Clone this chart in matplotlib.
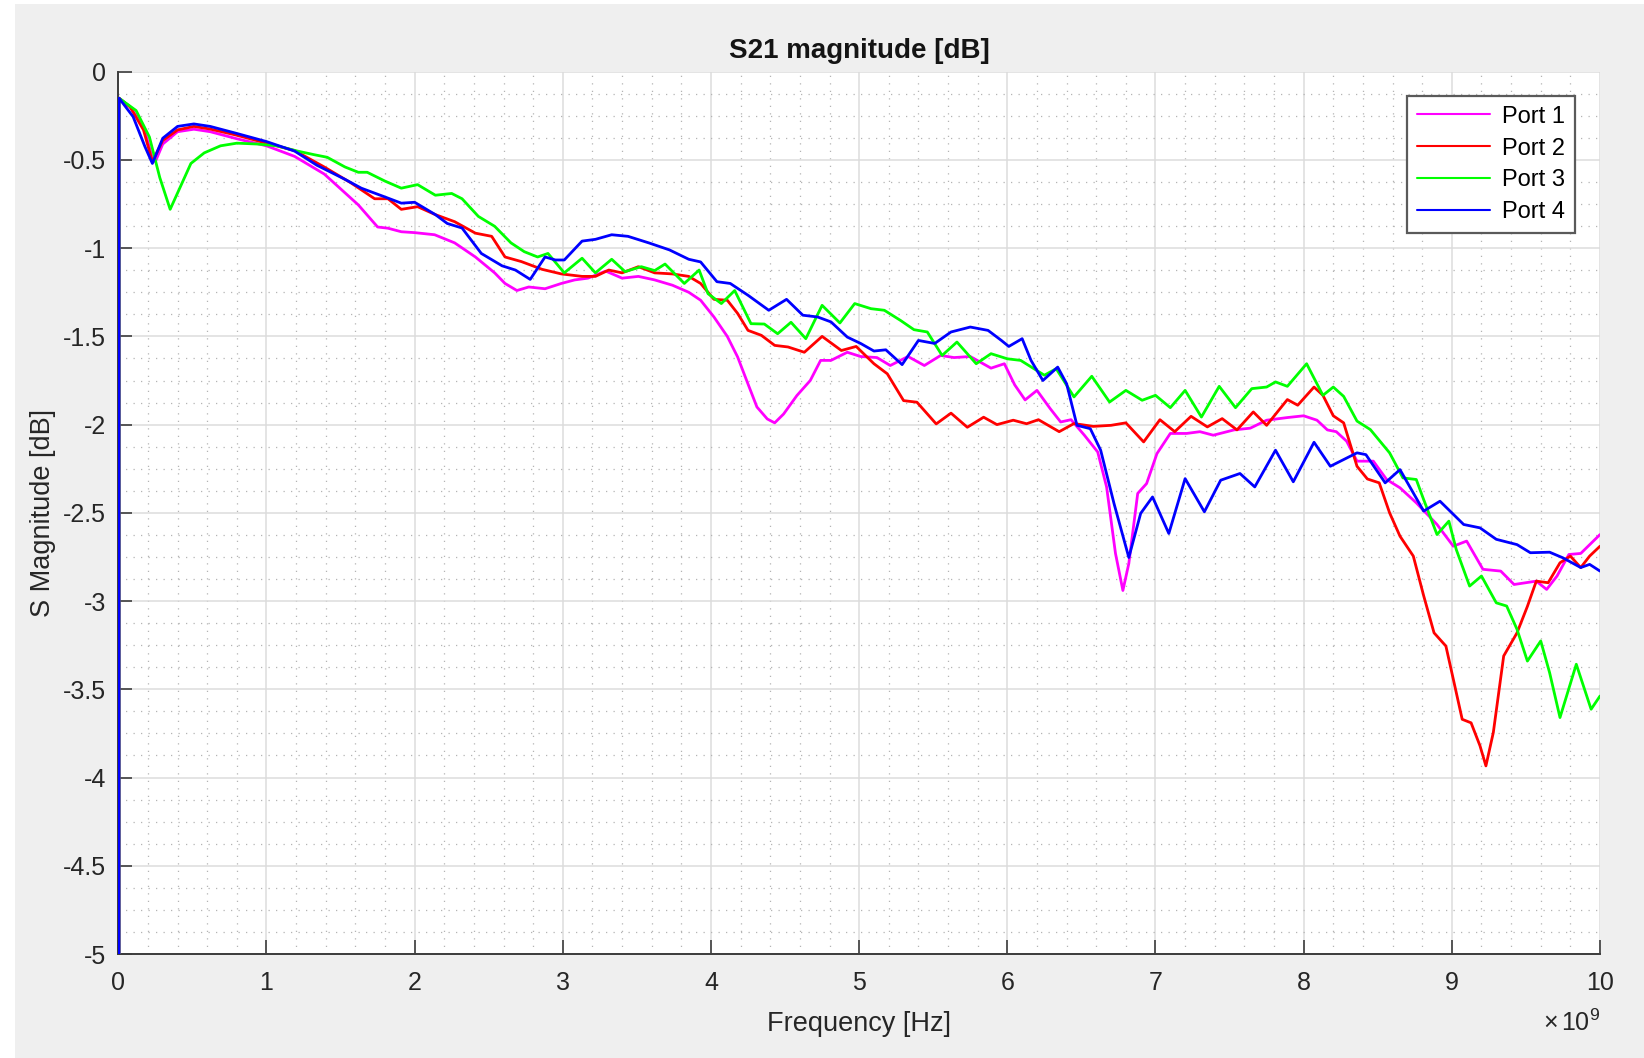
import numpy as np
import matplotlib
matplotlib.use("Agg")
import matplotlib.pyplot as plt
from matplotlib.ticker import MultipleLocator, FuncFormatter
from matplotlib.patches import Rectangle

# ---------------- data (frequency in GHz, magnitude in dB) ----------------
f1 = [0, 0.005, 0.08, 0.17, 0.23, 0.25, 0.3, 0.4, 0.51, 0.62, 0.8, 1.0, 1.19, 1.39, 1.62, 1.75, 1.82,
      1.91, 2.0, 2.135, 2.27, 2.41, 2.54, 2.61, 2.69, 2.77, 2.88, 2.99, 3.08, 3.17, 3.29, 3.4, 3.51,
      3.62, 3.74, 3.85, 3.93, 4.02, 4.11, 4.18, 4.25, 4.31, 4.38, 4.43, 4.49, 4.58, 4.67, 4.74, 4.81,
      4.92, 5.01, 5.12, 5.21, 5.33, 5.44, 5.55, 5.64, 5.75, 5.89, 5.98, 6.05, 6.12, 6.2, 6.29, 6.36,
      6.43, 6.52, 6.61, 6.67, 6.73, 6.78, 6.82, 6.88, 6.94, 7.01, 7.1, 7.21, 7.3, 7.39, 7.53, 7.64,
      7.75, 7.89, 8.0, 8.09, 8.16, 8.22, 8.29, 8.36, 8.47, 8.56, 8.65, 8.76, 8.9, 9.01, 9.1, 9.21,
      9.33, 9.42, 9.57, 9.64, 9.71, 9.79, 9.87, 10.0]
port1 = [-60, -0.15, -0.2, -0.31, -0.49, -0.51, -0.41, -0.34, -0.326, -0.34, -0.38, -0.42, -0.48,
         -0.58, -0.755, -0.88, -0.887, -0.907, -0.912, -0.924, -0.97, -1.05, -1.14, -1.2, -1.24,
         -1.22, -1.23, -1.2, -1.18, -1.17, -1.13, -1.17, -1.16, -1.18, -1.21, -1.25, -1.295, -1.39,
         -1.5, -1.617, -1.77, -1.9, -1.968, -1.99, -1.94, -1.835, -1.75, -1.636, -1.636, -1.59,
         -1.614, -1.62, -1.665, -1.614, -1.665, -1.608, -1.62, -1.614, -1.68, -1.655, -1.775,
         -1.86, -1.806, -1.91, -1.985, -1.972, -2.06, -2.155, -2.353, -2.73, -2.94, -2.787, -2.39,
         -2.334, -2.164, -2.05, -2.05, -2.04, -2.06, -2.03, -2.02, -1.975, -1.96, -1.95, -1.975,
         -2.03, -2.04, -2.094, -2.207, -2.207, -2.311, -2.358, -2.443, -2.566, -2.689, -2.66,
         -2.82, -2.83, -2.906, -2.887, -2.934, -2.858, -2.736, -2.73, -2.623]

f2 = [0, 0.005, 0.08, 0.17, 0.23, 0.3, 0.4, 0.51, 0.62, 0.8, 1.0, 1.19, 1.39, 1.57, 1.73, 1.82, 1.91,
      2.02, 2.14, 2.27, 2.41, 2.52, 2.61, 2.72, 2.86, 2.99, 3.13, 3.22, 3.31, 3.4, 3.51, 3.62, 3.74,
      3.85, 3.93, 4.02, 4.11, 4.18, 4.25, 4.34, 4.43, 4.52, 4.63, 4.75, 4.88, 4.98, 5.1, 5.19, 5.3,
      5.39, 5.52, 5.62, 5.73, 5.84, 5.93, 6.04, 6.13, 6.21, 6.35, 6.45, 6.58, 6.7, 6.8, 6.92, 7.03,
      7.13, 7.24, 7.35, 7.45, 7.55, 7.66, 7.75, 7.89, 7.96, 8.07, 8.13, 8.2, 8.27, 8.36, 8.43, 8.51,
      8.58, 8.65, 8.74, 8.81, 8.88, 8.96, 9.01, 9.07, 9.13, 9.19, 9.23, 9.28, 9.35, 9.44, 9.51, 9.57,
      9.65, 9.73, 9.8, 9.87, 9.93, 10.0]
port2 = [-60, -0.15, -0.2, -0.33, -0.51, -0.39, -0.33, -0.31, -0.325, -0.36, -0.405, -0.447, -0.54,
         -0.63, -0.72, -0.72, -0.78, -0.765, -0.81, -0.85, -0.915, -0.933, -1.05, -1.076, -1.12,
         -1.146, -1.16, -1.16, -1.124, -1.14, -1.105, -1.14, -1.146, -1.16, -1.2, -1.29, -1.295,
         -1.37, -1.466, -1.494, -1.551, -1.56, -1.59, -1.5, -1.58, -1.557, -1.655, -1.712, -1.864,
         -1.873, -1.996, -1.935, -2.015, -1.958, -2.0, -1.975, -1.995, -1.972, -2.04, -1.994,
         -2.01, -2.004, -1.99, -2.098, -1.972, -2.04, -1.953, -2.013, -1.966, -2.03, -1.928,
         -2.004, -1.858, -1.89, -1.787, -1.834, -1.95, -1.99, -2.236, -2.308, -2.33, -2.5, -2.632,
         -2.745, -2.97, -3.18, -3.255, -3.443, -3.67, -3.69, -3.82, -3.934, -3.745, -3.311, -3.18,
         -3.03, -2.887, -2.896, -2.783, -2.745, -2.81, -2.745, -2.689]

f3 = [0, 0.005, 0.12, 0.21, 0.28, 0.35, 0.42, 0.49, 0.58, 0.69, 0.8, 0.94, 1.07, 1.21, 1.32, 1.41,
      1.53, 1.62, 1.68, 1.8, 1.91, 2.02, 2.14, 2.25, 2.32, 2.43, 2.54, 2.65, 2.74, 2.83, 2.9, 3.01,
      3.13, 3.22, 3.33, 3.42, 3.53, 3.62, 3.69, 3.82, 3.92, 3.98, 4.07, 4.16, 4.27, 4.36, 4.45, 4.54,
      4.64, 4.75, 4.87, 4.97, 5.08, 5.17, 5.28, 5.37, 5.46, 5.56, 5.66, 5.79, 5.89, 6.0, 6.09, 6.25,
      6.33, 6.45, 6.57, 6.69, 6.8, 6.91, 7.0, 7.1, 7.2, 7.31, 7.43, 7.54, 7.65, 7.75, 7.81, 7.89,
      8.02, 8.13, 8.2, 8.27, 8.36, 8.45, 8.58, 8.67, 8.76, 8.81, 8.9, 8.98, 9.03, 9.12, 9.2, 9.3,
      9.37, 9.44, 9.51, 9.6, 9.66, 9.73, 9.84, 9.94, 10.0]
port3 = [-60, -0.15, -0.22, -0.37, -0.6, -0.78, -0.65, -0.52, -0.46, -0.42, -0.405, -0.41, -0.42,
         -0.45, -0.47, -0.485, -0.54, -0.57, -0.57, -0.62, -0.66, -0.64, -0.7, -0.69, -0.72,
         -0.82, -0.876, -0.97, -1.02, -1.05, -1.03, -1.14, -1.057, -1.14, -1.063, -1.133, -1.105,
         -1.127, -1.09, -1.2, -1.124, -1.258, -1.314, -1.24, -1.428, -1.43, -1.485, -1.42, -1.513,
         -1.324, -1.424, -1.314, -1.343, -1.352, -1.41, -1.462, -1.475, -1.608, -1.532, -1.655,
         -1.598, -1.627, -1.636, -1.72, -1.683, -1.843, -1.726, -1.872, -1.806, -1.862, -1.834,
         -1.904, -1.806, -1.957, -1.783, -1.904, -1.796, -1.787, -1.758, -1.783, -1.655, -1.834,
         -1.787, -1.84, -1.98, -2.028, -2.16, -2.302, -2.311, -2.425, -2.623, -2.547, -2.708,
         -2.915, -2.858, -3.01, -3.028, -3.16, -3.34, -3.226, -3.406, -3.66, -3.358, -3.613, -3.538]

f4 = [0, 0.005, 0.1, 0.18, 0.23, 0.3, 0.4, 0.51, 0.62, 0.8, 1.0, 1.19, 1.34, 1.53, 1.64, 1.8, 1.91,
      2.0, 2.14, 2.22, 2.32, 2.45, 2.59, 2.68, 2.78, 2.88, 2.95, 3.01, 3.13, 3.22, 3.33, 3.44, 3.58,
      3.72, 3.85, 3.93, 4.04, 4.13, 4.25, 4.39, 4.51, 4.62, 4.72, 4.81, 4.92, 5.01, 5.1, 5.18, 5.29,
      5.4, 5.51, 5.62, 5.75, 5.87, 5.96, 6.01, 6.1, 6.16, 6.24, 6.34, 6.4, 6.47, 6.56, 6.63, 6.72,
      6.82, 6.9, 6.98, 7.09, 7.2, 7.33, 7.44, 7.57, 7.67, 7.81, 7.93, 8.07, 8.18, 8.27, 8.36, 8.42,
      8.55, 8.65, 8.81, 8.92, 9.08, 9.19, 9.3, 9.44, 9.53, 9.66, 9.75, 9.87, 9.93, 10.0]
port4 = [-60, -0.15, -0.255, -0.425, -0.52, -0.377, -0.31, -0.296, -0.31, -0.35, -0.396, -0.45,
         -0.53, -0.61, -0.66, -0.71, -0.745, -0.74, -0.81, -0.86, -0.886, -1.03, -1.1, -1.124,
         -1.177, -1.05, -1.067, -1.067, -0.96, -0.95, -0.924, -0.933, -0.97, -1.01, -1.063,
         -1.078, -1.19, -1.2, -1.267, -1.352, -1.29, -1.38, -1.39, -1.418, -1.504, -1.54, -1.583,
         -1.576, -1.66, -1.523, -1.54, -1.475, -1.447, -1.466, -1.523, -1.557, -1.513, -1.636,
         -1.75, -1.674, -1.768, -2.004, -2.023, -2.145, -2.447, -2.753, -2.503, -2.41, -2.617,
         -2.306, -2.494, -2.315, -2.277, -2.353, -2.145, -2.324, -2.1, -2.236, -2.198, -2.16,
         -2.17, -2.33, -2.255, -2.49, -2.434, -2.566, -2.585, -2.65, -2.68, -2.726, -2.723,
         -2.755, -2.81, -2.792, -2.83]

series_names = ["Port 1", "Port 2", "Port 3", "Port 4"]
series_colors = ["#ff00ff", "#ff0000", "#00ff00", "#0000ff"]
x_ticks = [0, 1, 2, 3, 4, 5, 6, 7, 8, 9, 10]          # in units of 1e9 Hz
y_ticks = [0, -0.5, -1, -1.5, -2, -2.5, -3, -3.5, -4, -4.5, -5]
x_scale = 1e9

# ---------------- figure ----------------
plt.rcParams['font.family'] = ['Liberation Sans', 'DejaVu Sans']
plt.rcParams['mathtext.fontset'] = 'custom'
plt.rcParams['mathtext.rm'] = 'Liberation Sans'
plt.rcParams['mathtext.it'] = 'Liberation Sans:italic'
plt.rcParams['mathtext.bf'] = 'Liberation Sans:bold'

W, H = 1644, 1058
fig = plt.figure(figsize=(W / 100, H / 100), dpi=100, facecolor="white")
fig.patches.append(Rectangle((15 / W, 0), 1 - 15 / W, 1 - 4 / H, transform=fig.transFigure,
                             facecolor="#efefef", edgecolor="none", zorder=-10))

ax_h_px = 954 - 71.7
ax_w_px = 1600 - 118.3
ax = fig.add_axes([118.3 / W, 1 - 954 / H, ax_w_px / W, ax_h_px / H])
ax.set_facecolor("white")

datasets = [(f1, port1), (f2, port2), (f3, port3), (f4, port4)]
for (f, v), name, col in zip(datasets, series_names, series_colors):
    ax.plot(np.array(f) * x_scale, v, color=col, lw=2.0, label=name, zorder=3,
            solid_joinstyle="round", solid_capstyle="round")

ax.set_xlim(0, 10 * x_scale)
ax.set_ylim(-5, 0)
ax.set_xticks(np.array(x_ticks) * x_scale)
ax.set_yticks(y_ticks)
ax.xaxis.set_minor_locator(MultipleLocator(0.2 * x_scale))
ax.yaxis.set_minor_locator(MultipleLocator(0.125))

ax.xaxis.set_major_formatter(FuncFormatter(lambda val, pos: "{:g}".format(val / x_scale)))
ax.yaxis.set_major_formatter(FuncFormatter(lambda val, pos: "{:g}".format(val)))

ax.grid(True, which="major", color="#dcdcdc", lw=1.1, zorder=0)
ax.grid(True, which="minor", color="#b4b4b4", lw=0.9, linestyle=(0, (1, 5)), zorder=0)
ax.set_axisbelow(True)

for s in ["top", "right"]:
    ax.spines[s].set_visible(False)
for s in ["left", "bottom"]:
    ax.spines[s].set_color("#3c3c3c")
    ax.spines[s].set_linewidth(1.4)

ax.tick_params(which="major", direction="in", length=10, width=1.2, color="#3c3c3c",
               labelsize=18, labelcolor="#262626")
ax.tick_params(which="minor", length=0)
ax.tick_params(axis="y", pad=9)
ax.tick_params(axis="x", pad=12)

# exponent label like MATLAB
ax.text(1.0, -(1031 - 954) / ax_h_px, r"$\times\,\mathregular{10^{9}}$", transform=ax.transAxes,
        ha="right", va="baseline", fontsize=18, color="#262626")

ax.set_title("S21 magnitude [dB]", fontsize=20, fontweight="bold", color="#141414", pad=10)
ax.set_xlabel("Frequency [Hz]", fontsize=19.5, color="#262626", labelpad=12)
ax.set_ylabel("S Magnitude [dB]", fontsize=19.5, color="#262626", labelpad=5)

leg = ax.legend(loc="upper right", bbox_to_anchor=(1 - 25 / ax_w_px, 1 - 24 / ax_h_px),
                fontsize=17, frameon=True, fancybox=False, handlelength=3.1,
                borderpad=0.42, labelspacing=0.42, handletextpad=0.5, borderaxespad=0)
leg.get_frame().set_edgecolor("#5a5a5a")
leg.get_frame().set_linewidth(1.6)
leg.get_frame().set_alpha(1)
for line in leg.get_lines():
    line.set_linewidth(1.5)

fig.savefig("out.png", dpi=100, facecolor=fig.get_facecolor())
